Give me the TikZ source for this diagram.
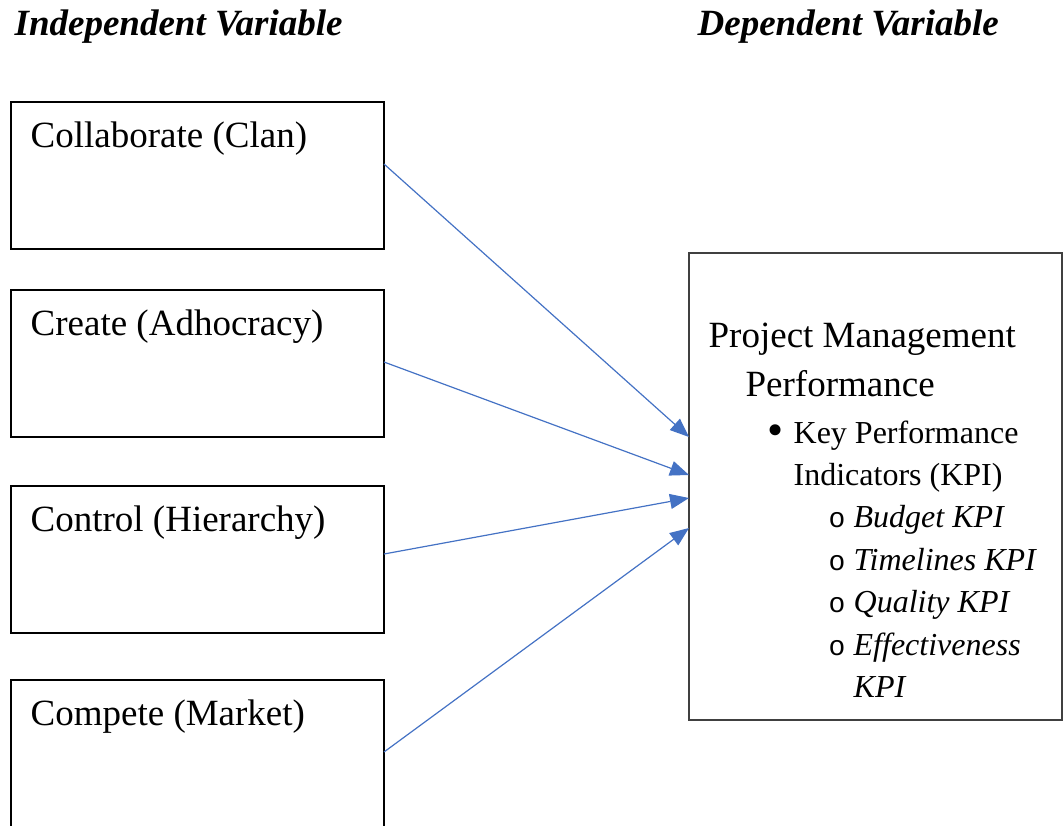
\documentclass[tikz,border=0pt]{standalone}
\usepackage{fontspec}
\setmainfont{Liberation Serif}
\newfontfamily\ringfont{Liberation Mono}
\usepackage{xcolor}
\usetikzlibrary{arrows.meta}
\usetikzlibrary{calc}
\usetikzlibrary{positioning}
\definecolor{linkblue}{RGB}{68,114,196}

\begin{document}
\begin{tikzpicture}[x=1pt,y=-1pt,line width=1.3pt,
		link/.style={draw=linkblue, line width=1.2pt, -{Triangle[length=19pt,width=15pt]}}]
	\tikzstyle{var}=[draw, rectangle, inner sep=0pt, outer sep=0pt, minimum width=373pt, minimum height=147pt]
	\tikzstyle{txt}=[inner sep=0pt, anchor=base west, font=\fontsize{37}{44}\selectfont]
	\tikzstyle{head}=[txt, font=\fontsize{37}{44}\selectfont\bfseries\itshape]
	\tikzstyle{sub}=[inner sep=0pt, anchor=base west, font=\fontsize{32}{38}\selectfont]
	\tikzstyle{ring}=[inner sep=0pt, anchor=base, font=\fontsize{28}{34}\selectfont\ringfont]
	\useasboundingbox (0,0) rectangle (1063,825);

	% column headings
	\node[head] (indep) at (14,35) {Independent Variable};
	\node[head] (dep) at (697,35) {Dependent Variable};

	% culture types
	\node[var] (clan) [anchor=north west] at (11,102) {};
	\node[var] (adhoc) [below=41pt of clan] {};
	\node[var] (hier) [below=49pt of adhoc] {};
	\node[var] (market) [below=47pt of hier] {};
	\node[txt] (clantxt) [below right=45pt and 19pt of clan.north west, anchor=base west] {Collaborate (Clan)};
	\node[txt] (adhoctxt) [below right=45pt and 19pt of adhoc.north west, anchor=base west] {Create (Adhocracy)};
	\node[txt] (hiertxt) [below right=45pt and 19pt of hier.north west, anchor=base west] {Control (Hierarchy)};
	\node[txt] (markettxt) [below right=45pt and 19pt of market.north west, anchor=base west] {Compete (Market)};

	% performance box
	\node[var, minimum height=467pt, draw=black!75] (kpm) [anchor=north west] at (689,253) {};
	\node[txt] (pm) [below right=94pt and 19pt of kpm.north west, anchor=base west] {Project Management};
	\node[txt] (perf) [below right=49pt and 37pt of pm.base west, anchor=base west] {Performance};
	\node[sub, font=\fontsize{46}{46}\selectfont] (dot) [below right=49pt and 31pt of perf.base west, anchor=base] {•};
	\node[sub] (key) [below right=47pt and 48pt of perf.base west, anchor=base west] {Key Performance};
	\node[sub] (ind) [below=42pt of key.base west, anchor=base west] {Indicators (KPI)};
	\foreach \kpi [count=\i, evaluate=\i as \dy using 42.5*\i] in {Budget KPI, Timelines KPI, Quality KPI, Effectiveness}{
		\node[ring] (o\i) at ($(ind.base west)+(44,\dy)$) {o};
		\node[sub, font=\fontsize{32}{38}\selectfont\itshape] (kpi\i) at ($(ind.base west)+(60,\dy)$) {\kpi};
	}
	\node[sub, font=\fontsize{32}{38}\selectfont\itshape] (kpi5) [below=42.5pt of kpi4.base west, anchor=base west] {KPI};

	\draw[link] ([yshift=11.5pt]clan.east) -- ([yshift=49.5pt]kpm.west);
	\draw[link] ([yshift=1.5pt]adhoc.east) -- ([yshift=11.5pt]kpm.west);
	\draw[link] ([yshift=5.5pt]hier.east) -- ([yshift=-11.5pt]kpm.west);
	\draw[link] ([yshift=1.5pt]market.east) -- ([yshift=-41.5pt]kpm.west);
\end{tikzpicture}
\end{document}
